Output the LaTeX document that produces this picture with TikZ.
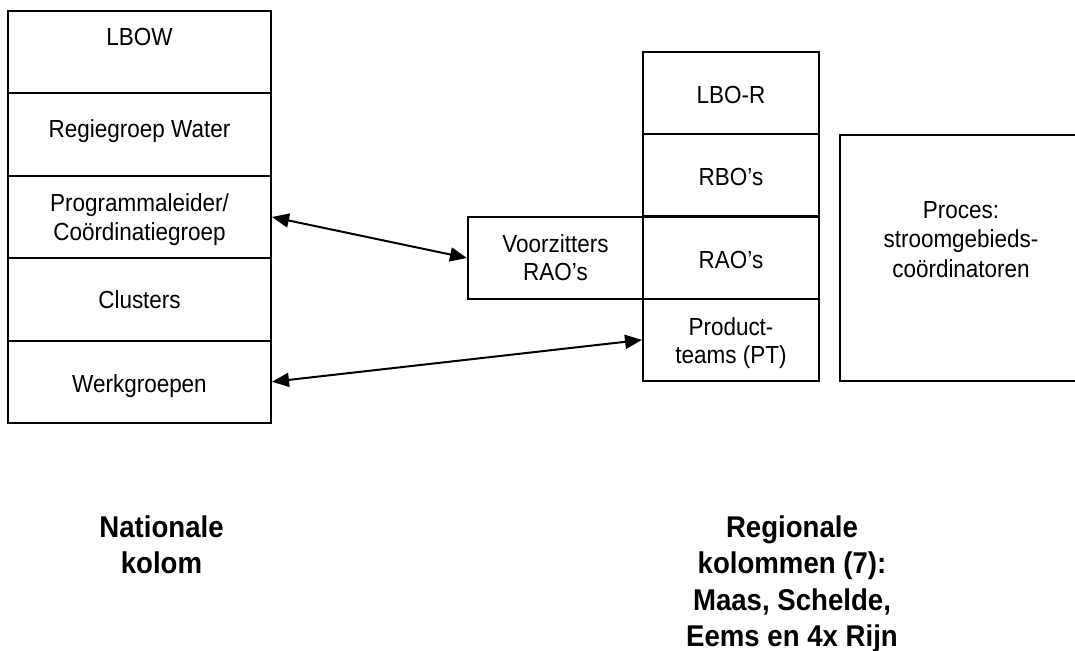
\documentclass[tikz,border=0pt]{standalone}
\usepackage{fontspec}
\setmainfont[FakeStretch=0.91]{Liberation Sans}
\newfontfamily\headfont[FakeStretch=0.92]{Liberation Sans}
\usetikzlibrary{arrows.meta}
\begin{document}
\begin{tikzpicture}[x=1pt,y=-1pt,
  cell/.style={draw, line width=2pt, inner sep=0pt,
               minimum width=#1},
  lcell/.style={cell=263pt, minimum height=82.4pt},
  rcell/.style={cell=176pt, minimum height=82.25pt},
  txt/.style={anchor=base, inner sep=0pt,
              font=\fontsize{24.7}{29}\selectfont},
  head/.style={anchor=base, inner sep=0pt,
               font=\headfont\bfseries\fontsize{30}{36}\selectfont},
  tip/.style={Triangle[length=17pt,width=14pt]},
  conn/.style={line width=2pt, {Triangle[length=17pt,width=14pt]}-{Triangle[length=17pt,width=14pt]}}]
\useasboundingbox (0,0) rectangle (1075,650);

% national column
\node[lcell] (lbow)  at (139.5,52.2)  {};
\node[lcell] (regie) at (139.5,134.6) {};
\node[lcell] (prog)  at (139.5,217)   {};
\node[lcell] (clus)  at (139.5,299.4) {};
\node[lcell] (werk)  at (139.5,381.8) {};

\node[txt] (lbowT)  at (139.5,46)  {LBOW};
\node[txt] (regieT) at (139.5,137) {Regiegroep Water};
\node[txt] (progT1) at (139.5,211) {Programmaleider/};
\node[txt] (progT2) at (139.5,240) {Coördinatiegroep};
\node[txt] (clusT)  at (139.5,308) {Clusters};
\node[txt] (werkT)  at (139.5,392) {Werkgroepen};

% regional column
\node[rcell] (lbor) at (731,93.1)  {};
\node[rcell] (rbo)  at (731,175.4) {};
\node[rcell] (rao)  at (731,257.6) {};
\node[rcell] (pt)   at (731,339.9) {};

\node[txt] (lborT) at (731,103) {LBO-R};
\node[txt] (rboT)  at (731,185) {RBO’s};
\node[txt] (raoT)  at (731,268) {RAO’s};
\node[txt] (ptT1)  at (731,335) {Product-};
\node[txt] (ptT2)  at (731,363) {teams (PT)};

% chairs of the RAOs
\node[cell=175pt, minimum height=82pt] (voor) at (555.5,258) {};
\node[txt] (voorT1) at (555.5,252) {Voorzitters};
\node[txt] (voorT2) at (555.5,280) {RAO’s};

% process box (runs past the right margin)
\node[cell=242pt, minimum height=246pt] (proc) at (961,258) {};
\node[txt] (procT1) at (961,218)   {Proces:};
\node[txt] (procT2) at (961,247.5) {stroomgebieds-};
\node[txt] (procT3) at (961,277)   {coördinatoren};

% links
\draw[conn] (prog.east) -- (voor.west);
\draw[conn] (werk.east) -- (pt.west);

% captions
\node[head] (nat1) at (161.5,537) {Nationale};
\node[head] (nat2) at (161.5,573) {kolom};
\node[head] (reg1) at (792,537) {Regionale};
\node[head] (reg2) at (792,573) {kolommen (7):};
\node[head] (reg3) at (792,610) {Maas, Schelde,};
\node[head] (reg4) at (792,646) {Eems en 4x Rijn};
\end{tikzpicture}
\end{document}
